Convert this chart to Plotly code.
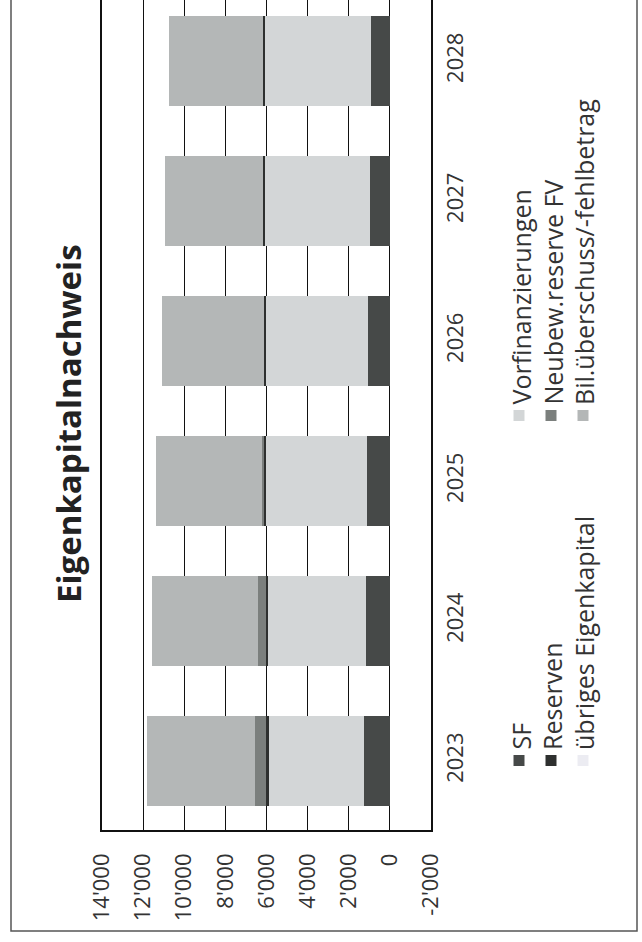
import plotly.graph_objects as go

# Eigenkapitalnachweis 2023-2028 (Werte in CHF 1'000)
years = ["2023", "2024", "2025", "2026", "2027", "2028"]
sf = [1280, 1180, 1110, 1040, 980, 900]
vorfinanzierungen = [4610, 4740, 4920, 4990, 5090, 5150]
reserven = [130, 110, 100, 100, 100, 110]
neubew_fv = [540, 380, 110, 0, 0, 0]
uebriges_ek = [0, 0, 0, 0, 0, 0]
bil_ueberschuss = [5260, 5160, 5120, 4930, 4770, 4600]

value_ticks = [-2000, 0, 2000, 4000, 6000, 8000, 10000, 12000, 14000]
value_tick_text = [f"{v:,}".replace(",", "'") for v in value_ticks]

series = [
    ("SF", sf, "#464948"),
    ("Vorfinanzierungen", vorfinanzierungen, "#d3d6d7"),
    ("Reserven", reserven, "#2e302f"),
    ("Neubew.reserve FV", neubew_fv, "#7b7f7d"),
    ("übriges Eigenkapital", uebriges_ek, "#ececf2"),
    ("Bil.überschuss/-fehlbetrag", bil_ueberschuss, "#b4b7b7"),
]

W, H = 642, 942
PL, PR, PT, PB = 102, 431, 0, 830  # plot area in pixels
FONT = "Open Sans"
TXT = "#333333"


def fx(px):
    return (px - PL) / (PR - PL)


def fy(py):
    return (PB - py) / (PB - PT)


fig = go.Figure()
for name, vals, color in series:
    fig.add_trace(go.Bar(
        x=vals, y=years, orientation="h", name=name,
        marker=dict(color=color, line=dict(width=0)),
        showlegend=False,
    ))

fig.update_layout(
    width=W, height=H,
    margin=dict(l=PL, r=W - PR, t=PT, b=H - PB, autoexpand=False),
    barmode="stack", bargap=0.36,
    plot_bgcolor="white", paper_bgcolor="white",
    font=dict(family=FONT, color=TXT),
    xaxis=dict(
        range=[14000, -2000], tickmode="array",
        tickvals=value_ticks, ticktext=value_tick_text,
        showgrid=True, gridcolor="#111111", gridwidth=1.3,
        zeroline=True, zerolinecolor="#111111", zerolinewidth=1.3,
        showline=True, linecolor="#111111", linewidth=1.5,
        ticks="", tickangle=-90, ticklabelstandoff=13,
        tickfont=dict(size=22, family=FONT, color=TXT),
        automargin=False,
    ),
    yaxis=dict(
        type="category", range=[-0.493, 5.436], side="right",
        showgrid=False, showline=True, mirror=True,
        linecolor="#111111", linewidth=1.5,
        ticks="", tickangle=-90, ticklabelstandoff=4,
        tickfont=dict(size=22, family=FONT, color=TXT),
        automargin=False,
    ),
)

# outer frame of the chart
fig.add_shape(type="rect", xref="paper", yref="paper",
              x0=fx(11), x1=fx(637), y0=fy(931), y1=fy(-10),
              line=dict(color="#555555", width=1.5), fillcolor="rgba(0,0,0,0)",
              layer="below")

# title, rotated like the rest of the chart
fig.add_annotation(text="<b>Eigenkapitalnachweis</b>", textangle=-90,
                   xref="paper", yref="paper", x=fx(68), y=fy(424),
                   xanchor="center", yanchor="middle", showarrow=False,
                   font=dict(size=33, family=FONT, color="#222222"))

# rotated legend: two groups of three rows
legend_pos = {
    "SF": (519, 0), "Reserven": (551, 0), "übriges Eigenkapital": (583, 0),
    "Vorfinanzierungen": (519, 1), "Neubew.reserve FV": (551, 1),
    "Bil.überschuss/-fehlbetrag": (583, 1),
}
col_start = {0: 766, 1: 421}
for name, vals, color in series:
    xc, col = legend_pos[name]
    y0 = col_start[col]
    fig.add_shape(type="rect", xref="paper", yref="paper",
                  x0=fx(xc - 5.5), x1=fx(xc + 5.5), y0=fy(y0), y1=fy(y0 - 11),
                  line=dict(width=0), fillcolor=color)
    fig.add_annotation(text=name, textangle=-90, xref="paper", yref="paper",
                       x=fx(xc + 1), y=fy(y0 - 14), xanchor="center", yanchor="bottom",
                       showarrow=False, font=dict(size=25, family=FONT, color=TXT))

fig.write_html("out.html")
